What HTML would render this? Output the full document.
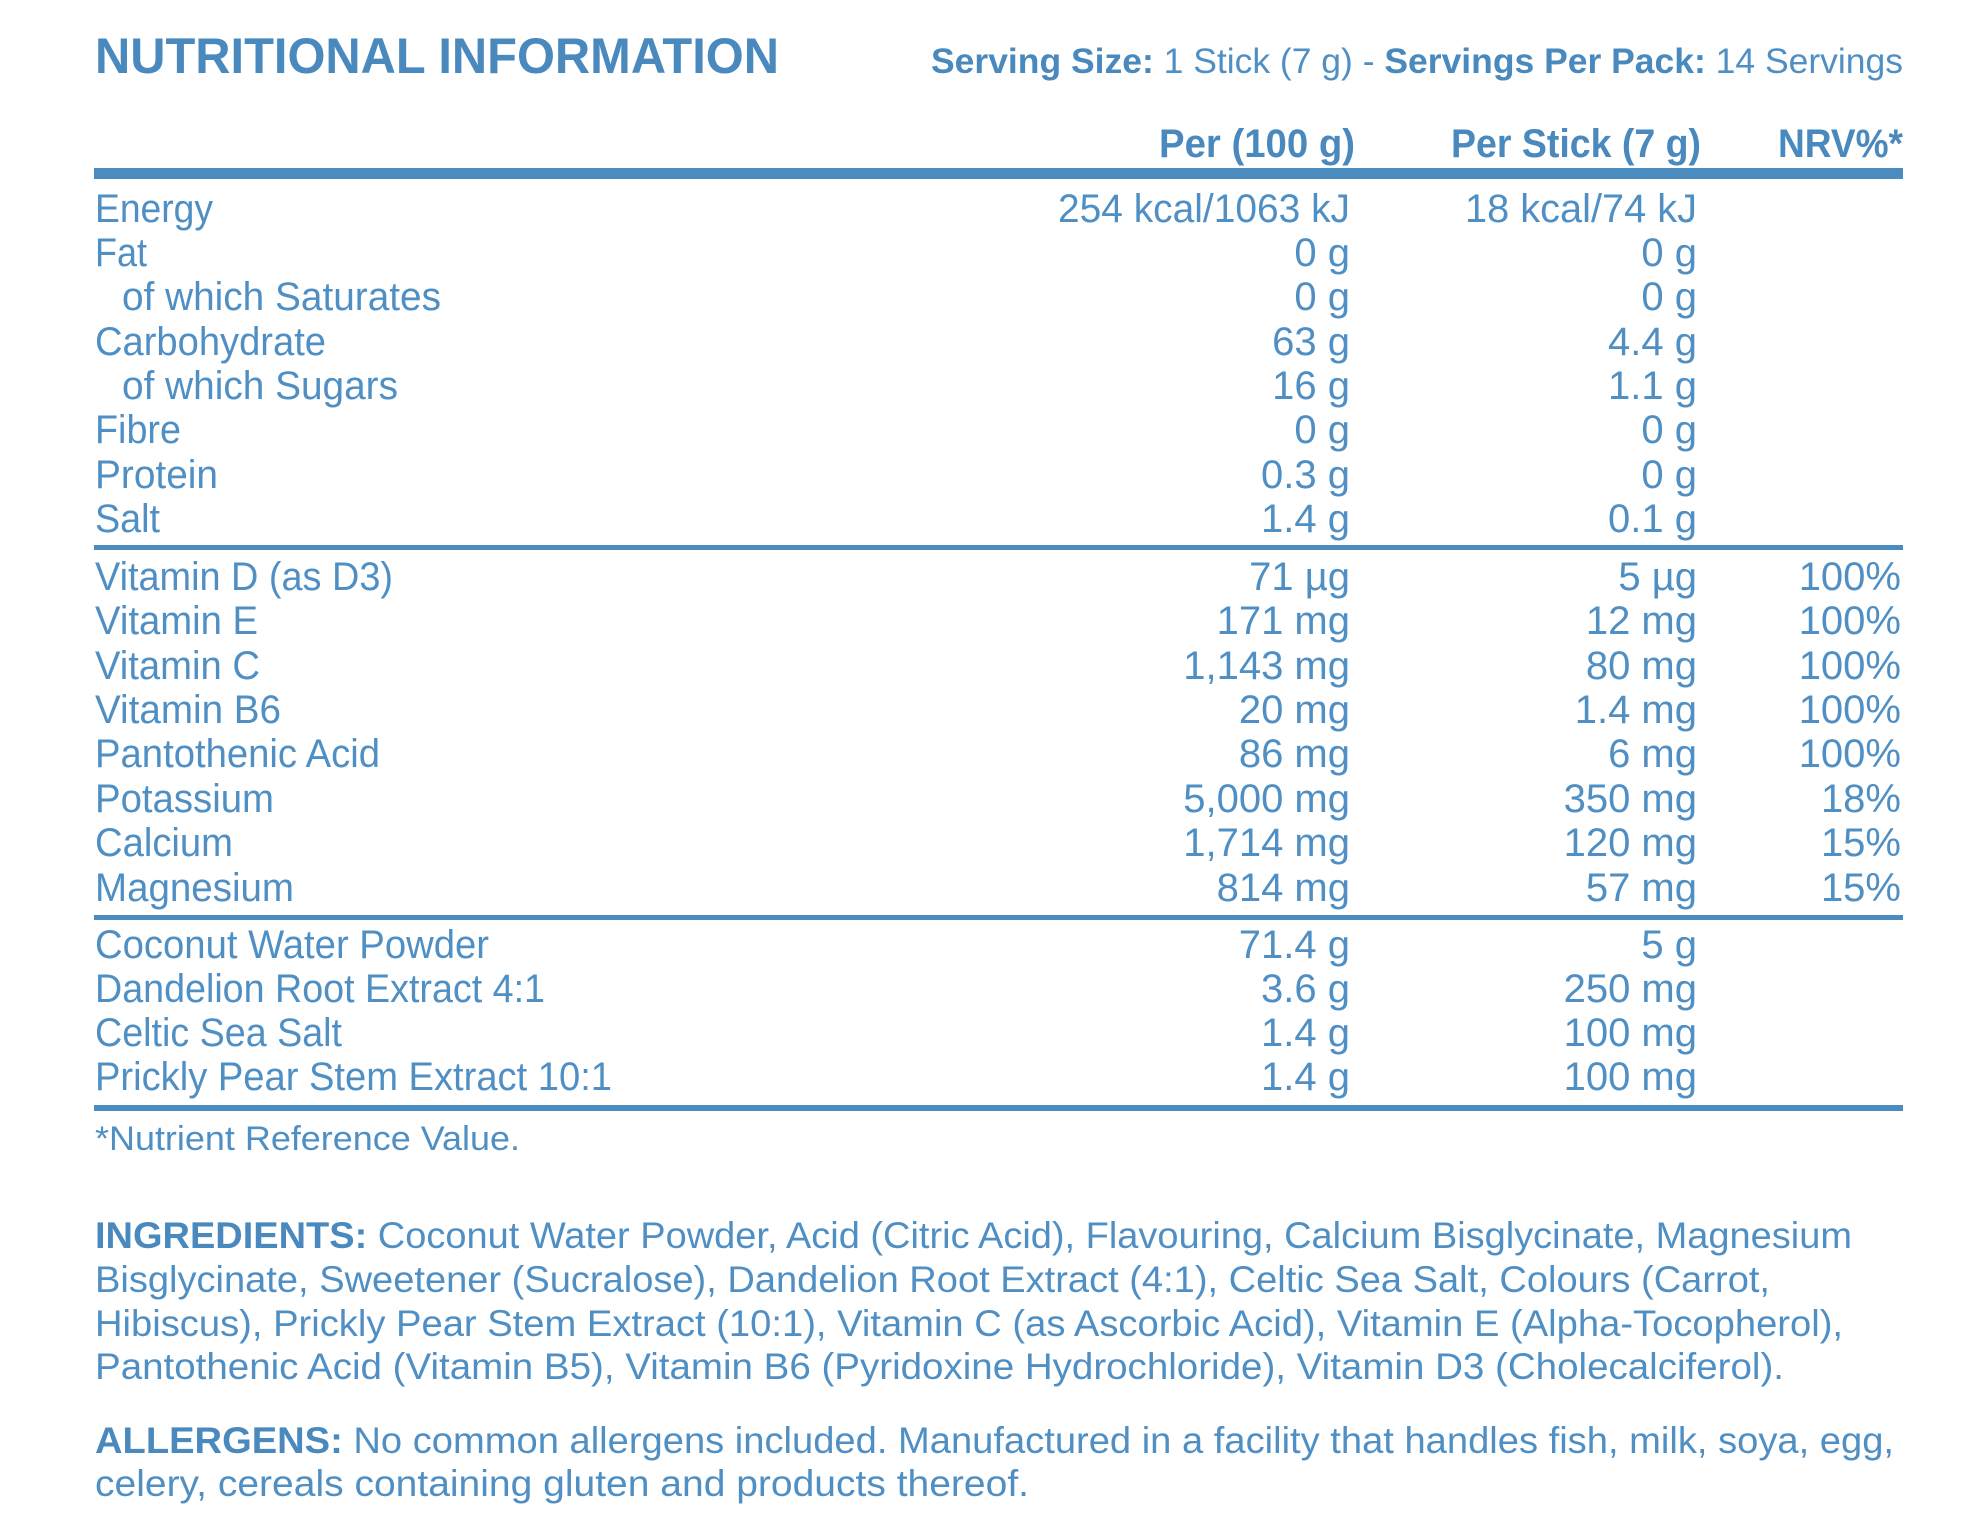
<!DOCTYPE html>
<html><head><meta charset="utf-8"><style>
html,body{margin:0;padding:0;background:#fff;width:1976px;height:1518px;overflow:hidden}
svg{display:block}
text{font-family:"Liberation Sans",sans-serif;fill:#4f8fc3}
.b{font-weight:bold;fill:#4a89bd}
.r{font-size:40px}
.e{text-anchor:end}
</style></head><body>
<svg width="1976" height="1518" viewBox="0 0 1976 1518" xmlns="http://www.w3.org/2000/svg">
<text x="95" y="73" class="b" font-size="50" textLength="684" lengthAdjust="spacingAndGlyphs">NUTRITIONAL INFORMATION</text>
<text x="931" y="73" font-size="35" textLength="972" lengthAdjust="spacingAndGlyphs"><tspan class="b">Serving Size:</tspan> 1 Stick (7 g)  -  <tspan class="b">Servings Per Pack:</tspan> 14 Servings</text>

<text x="1355" y="157" class="b e" font-size="40" textLength="196" lengthAdjust="spacingAndGlyphs">Per (100 g)</text>
<text x="1701" y="157" class="b e" font-size="40" textLength="250" lengthAdjust="spacingAndGlyphs">Per Stick (7 g)</text>
<text x="1903" y="157" class="b e" font-size="40" textLength="125" lengthAdjust="spacingAndGlyphs">NRV%*</text>

<rect x="94" y="168" width="1809" height="11" fill="#4a8bc0"/>
<rect x="94" y="545" width="1809" height="5" fill="#4a8bc0"/>
<rect x="94" y="915" width="1809" height="5" fill="#4a8bc0"/>
<rect x="94" y="1105" width="1809" height="6" fill="#4a8bc0"/>

<g class="r">
<text x="95" y="222" textLength="118" lengthAdjust="spacingAndGlyphs">Energy</text>
<text x="95" y="266" textLength="52" lengthAdjust="spacingAndGlyphs">Fat</text>
<text x="122" y="310" textLength="319" lengthAdjust="spacingAndGlyphs">of which Saturates</text>
<text x="95" y="355" textLength="231" lengthAdjust="spacingAndGlyphs">Carbohydrate</text>
<text x="122" y="399" textLength="276" lengthAdjust="spacingAndGlyphs">of which Sugars</text>
<text x="95" y="443" textLength="86" lengthAdjust="spacingAndGlyphs">Fibre</text>
<text x="95" y="488" textLength="123" lengthAdjust="spacingAndGlyphs">Protein</text>
<text x="95" y="532" textLength="65" lengthAdjust="spacingAndGlyphs">Salt</text>

<text x="95" y="590" textLength="298" lengthAdjust="spacingAndGlyphs">Vitamin D (as D3)</text>
<text x="95" y="634" textLength="163" lengthAdjust="spacingAndGlyphs">Vitamin E</text>
<text x="95" y="679" textLength="165" lengthAdjust="spacingAndGlyphs">Vitamin C</text>
<text x="95" y="723" textLength="186" lengthAdjust="spacingAndGlyphs">Vitamin B6</text>
<text x="95" y="767" textLength="285" lengthAdjust="spacingAndGlyphs">Pantothenic Acid</text>
<text x="95" y="812" textLength="179" lengthAdjust="spacingAndGlyphs">Potassium</text>
<text x="95" y="856" textLength="138" lengthAdjust="spacingAndGlyphs">Calcium</text>
<text x="95" y="901" textLength="199" lengthAdjust="spacingAndGlyphs">Magnesium</text>

<text x="95" y="958" textLength="394" lengthAdjust="spacingAndGlyphs">Coconut Water Powder</text>
<text x="95" y="1002" textLength="450" lengthAdjust="spacingAndGlyphs">Dandelion Root Extract 4:1</text>
<text x="95" y="1046" textLength="247" lengthAdjust="spacingAndGlyphs">Celtic Sea Salt</text>
<text x="95" y="1090" textLength="517" lengthAdjust="spacingAndGlyphs">Prickly Pear Stem Extract 10:1</text>
</g>

<g class="r e">
<text x="1350" y="222" class="e" textLength="292" lengthAdjust="spacingAndGlyphs">254 kcal/1063 kJ</text>
<text x="1350" y="266" class="e">0 g</text>
<text x="1350" y="310" class="e">0 g</text>
<text x="1350" y="355" class="e">63 g</text>
<text x="1350" y="399" class="e">16 g</text>
<text x="1350" y="443" class="e">0 g</text>
<text x="1350" y="488" class="e">0.3 g</text>
<text x="1350" y="532" class="e">1.4 g</text>
<text x="1350" y="590" class="e">71 µg</text>
<text x="1350" y="634" class="e">171 mg</text>
<text x="1350" y="679" class="e">1,143 mg</text>
<text x="1350" y="723" class="e">20 mg</text>
<text x="1350" y="767" class="e">86 mg</text>
<text x="1350" y="812" class="e">5,000 mg</text>
<text x="1350" y="856" class="e">1,714 mg</text>
<text x="1350" y="901" class="e">814 mg</text>
<text x="1350" y="958" class="e">71.4 g</text>
<text x="1350" y="1002" class="e">3.6 g</text>
<text x="1350" y="1046" class="e">1.4 g</text>
<text x="1350" y="1090" class="e">1.4 g</text>

<text x="1697" y="222" class="e" textLength="232" lengthAdjust="spacingAndGlyphs">18 kcal/74 kJ</text>
<text x="1697" y="266" class="e">0 g</text>
<text x="1697" y="310" class="e">0 g</text>
<text x="1697" y="355" class="e">4.4 g</text>
<text x="1697" y="399" class="e">1.1 g</text>
<text x="1697" y="443" class="e">0 g</text>
<text x="1697" y="488" class="e">0 g</text>
<text x="1697" y="532" class="e">0.1 g</text>
<text x="1697" y="590" class="e">5 µg</text>
<text x="1697" y="634" class="e">12 mg</text>
<text x="1697" y="679" class="e">80 mg</text>
<text x="1697" y="723" class="e">1.4 mg</text>
<text x="1697" y="767" class="e">6 mg</text>
<text x="1697" y="812" class="e">350 mg</text>
<text x="1697" y="856" class="e">120 mg</text>
<text x="1697" y="901" class="e">57 mg</text>
<text x="1697" y="958" class="e">5 g</text>
<text x="1697" y="1002" class="e">250 mg</text>
<text x="1697" y="1046" class="e">100 mg</text>
<text x="1697" y="1090" class="e">100 mg</text>

<text x="1901" y="590" class="e">100%</text>
<text x="1901" y="634" class="e">100%</text>
<text x="1901" y="679" class="e">100%</text>
<text x="1901" y="723" class="e">100%</text>
<text x="1901" y="767" class="e">100%</text>
<text x="1901" y="812" class="e">18%</text>
<text x="1901" y="856" class="e">15%</text>
<text x="1901" y="901" class="e">15%</text>
</g>

<text x="95" y="1150" font-size="34" textLength="425" lengthAdjust="spacingAndGlyphs">*Nutrient Reference Value.</text>

<g font-size="37">
<text x="95" y="1248" textLength="1757" lengthAdjust="spacingAndGlyphs"><tspan class="b">INGREDIENTS:</tspan> Coconut Water Powder, Acid (Citric Acid), Flavouring, Calcium Bisglycinate, Magnesium</text>
<text x="95" y="1292" textLength="1675" lengthAdjust="spacingAndGlyphs">Bisglycinate, Sweetener (Sucralose), Dandelion Root Extract (4:1), Celtic Sea Salt, Colours (Carrot,</text>
<text x="95" y="1336" textLength="1748" lengthAdjust="spacingAndGlyphs">Hibiscus), Prickly Pear Stem Extract (10:1), Vitamin C (as Ascorbic Acid), Vitamin E (Alpha-Tocopherol),</text>
<text x="95" y="1379" textLength="1689" lengthAdjust="spacingAndGlyphs">Pantothenic Acid (Vitamin B5), Vitamin B6 (Pyridoxine Hydrochloride), Vitamin D3 (Cholecalciferol).</text>
<text x="95" y="1453" textLength="1799" lengthAdjust="spacingAndGlyphs"><tspan class="b">ALLERGENS:</tspan> No common allergens included. Manufactured in a facility that handles fish, milk, soya, egg,</text>
<text x="95" y="1496" textLength="934" lengthAdjust="spacingAndGlyphs">celery, cereals containing gluten and products thereof.</text>
</g>
</svg>
</body></html>
